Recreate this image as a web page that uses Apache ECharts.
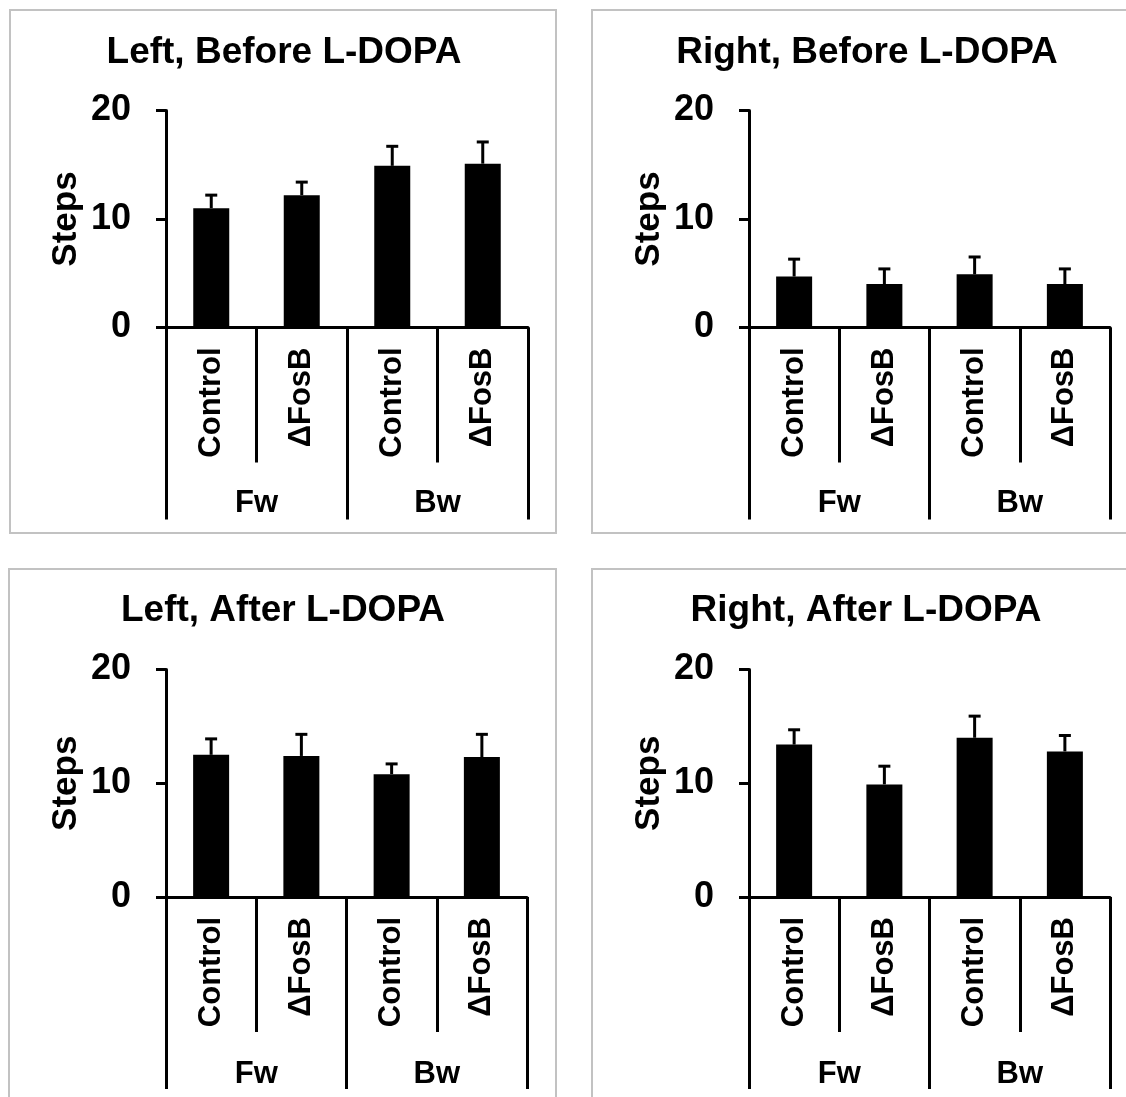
<!DOCTYPE html>
<html>
<head>
<meta charset="utf-8">
<script src="https://cdn.jsdelivr.net/npm/echarts@6/dist/echarts.min.js"></script>
<style>
  html, body { margin: 0; padding: 0; background: #fff; }
  #chart { width: 1126px; height: 1097px; }
</style>
</head>
<body>
<div id="chart"></div>
<script>
// ---- data ----
const categories = ['Control', '\u0394FosB', 'Control', '\u0394FosB'];
const groups = ['Fw', 'Bw'];
const panelTitles = ['Left, Before L-DOPA', 'Right, Before L-DOPA', 'Left, After L-DOPA', 'Right, After L-DOPA'];
const yAxisName = 'Steps';
const yMin = 0, yMax = 20, yInterval = 10;

const leftBeforeMean  = [11.0, 12.2, 14.9, 15.1];
const leftBeforeErr   = [1.2, 1.2, 1.8, 2.0];
const rightBeforeMean = [4.7, 4.0, 4.9, 4.0];
const rightBeforeErr  = [1.6, 1.4, 1.6, 1.4];
const leftAfterMean   = [12.5, 12.4, 10.8, 12.3];
const leftAfterErr    = [1.4, 1.9, 0.9, 2.0];
const rightAfterMean  = [13.4, 9.9, 14.0, 12.8];
const rightAfterErr   = [1.3, 1.6, 1.9, 1.4];

const means = [leftBeforeMean, rightBeforeMean, leftAfterMean, rightAfterMean];
const errs  = [leftBeforeErr, rightBeforeErr, leftAfterErr, rightAfterErr];

// ---- layout ----
const FONT = '"Liberation Sans", Arial, sans-serif';
const grids = [
  { left: 166, top: 110.5, width: 362, height: 217 },
  { left: 749, top: 110.5, width: 361, height: 217 },
  { left: 166, top: 669.5, width: 361, height: 227.5 },
  { left: 749, top: 669.5, width: 361, height: 227.5 }
];
const groupLabelMargin = [160, 160, 162, 162];
const titlePos = [[284, 53], [867, 53], [283, 611], [866, 611]];
const borders = [
  [10, 10, 546, 523], [592, 10, 560, 523],
  [9, 569, 547, 560], [592, 569, 560, 560]
];

const option = {
  backgroundColor: '#fff',
  animation: false,
  grid: grids.map(g => Object.assign({ containLabel: false, outerBoundsMode: 'none' }, g)),
  xAxis: [],
  yAxis: [],
  series: [],
  graphic: []
};

for (let i = 0; i < 4; i++) {
  // categories axis (short dividers)
  option.xAxis.push({
    type: 'category', gridIndex: i, position: 'bottom', data: categories,
    boundaryGap: true,
    axisLine: { show: true, onZero: false, lineStyle: { color: '#000', width: 3 } },
    axisTick: { show: true, interval: 0, length: 135, lineStyle: { color: '#000', width: 3 } },
    axisLabel: { interval: 0, rotate: 90, margin: 20, color: '#000', fontSize: 31, fontWeight: 'bold', fontFamily: FONT },
    splitLine: { show: false }
  });
  // group axis (long dividers)
  option.xAxis.push({
    type: 'category', gridIndex: i, position: 'bottom', data: groups,
    boundaryGap: true,
    axisLine: { show: false },
    axisTick: { show: true, interval: 0, length: 192, lineStyle: { color: '#000', width: 3 } },
    axisLabel: { interval: 0, margin: groupLabelMargin[i], color: '#000', fontSize: 31, fontWeight: 'bold', fontFamily: FONT },
    splitLine: { show: false }
  });
  option.yAxis.push({
    type: 'value', gridIndex: i, min: yMin, max: yMax, interval: yInterval,
    name: yAxisName, nameLocation: 'middle', nameGap: 82, nameRotate: 90,
    nameTextStyle: { color: '#000', fontSize: 35, fontWeight: 'bold', fontFamily: FONT },
    axisLine: { show: true, lineStyle: { color: '#000', width: 3 } },
    axisTick: { show: true, length: 10, lineStyle: { color: '#000', width: 3 } },
    axisLabel: { margin: 35, color: '#000', fontSize: 36, fontWeight: 'bold', fontFamily: FONT },
    splitLine: { show: false }
  });
  option.series.push({
    type: 'bar', xAxisIndex: 2 * i, yAxisIndex: i,
    data: means[i], barWidth: 36,
    itemStyle: { color: '#000' }, silent: true
  });
  option.series.push({
    type: 'custom', xAxisIndex: 2 * i, yAxisIndex: i, clip: false, silent: true,
    data: means[i].map((m, k) => [k, m, errs[i][k]]),
    renderItem: function (params, api) {
      const x = api.value(0), m = api.value(1), e = api.value(2);
      const p0 = api.coord([x, m]);
      const p1 = api.coord([x, m + e]);
      const style = { stroke: '#000', lineWidth: 3 };
      return {
        type: 'group',
        children: [
          { type: 'line', shape: { x1: p0[0], y1: p0[1], x2: p1[0], y2: p1[1] }, style: style },
          { type: 'line', shape: { x1: p1[0] - 6, y1: p1[1], x2: p1[0] + 6, y2: p1[1] }, style: style }
        ]
      };
    },
    z: 3
  });
  const b = borders[i];
  option.graphic.push({
    type: 'rect', shape: { x: b[0], y: b[1], width: b[2], height: b[3] },
    style: { fill: 'none', stroke: '#c2c2c2', lineWidth: 2 }, silent: true, z: 0
  });
  option.graphic.push({
    type: 'text', x: titlePos[i][0], y: titlePos[i][1],
    style: { text: panelTitles[i], fill: '#000', font: 'bold 37px ' + FONT, textAlign: 'center', textVerticalAlign: 'middle' },
    silent: true
  });
}

const chart = echarts.init(document.getElementById('chart'), null, { renderer: 'canvas', width: 1126, height: 1097 });
chart.setOption(option);
</script>
</body>
</html>
